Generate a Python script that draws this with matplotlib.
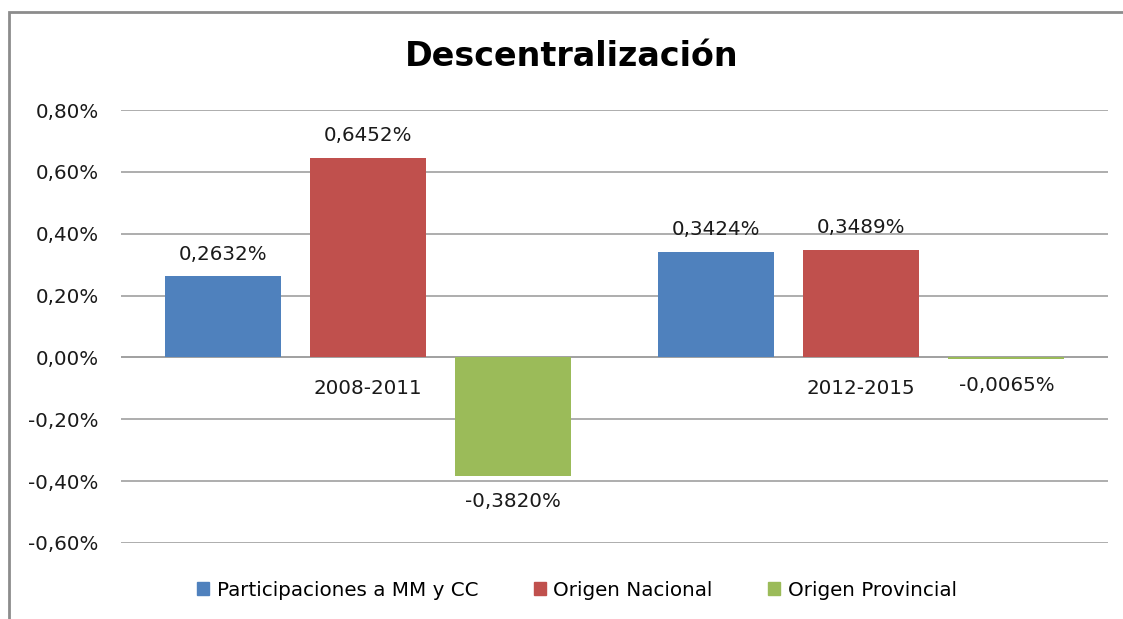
import matplotlib
matplotlib.use('Agg')
import matplotlib.pyplot as plt
from matplotlib.patches import Rectangle, Patch
import numpy as np

plt.rcParams['font.family'] = ['DejaVu Sans']

# Data
periods = ['2008-2011', '2012-2015']
series_names = ['Participaciones a MM y CC', 'Origen Nacional', 'Origen Provincial']
participaciones = [0.2632, 0.3424]
origen_nacional = [0.6452, 0.3489]
origen_provincial = [-0.3820, -0.0065]
yticks = [-0.6, -0.4, -0.2, 0.0, 0.2, 0.4, 0.6, 0.8]

colors = ['#4F81BD', '#C0504D', '#9BBB59']
FS = 14.3

fig = plt.figure(figsize=(11.23, 6.19), dpi=100)
W, H = 1123, 619
ax = fig.add_axes([121 / W, 1 - 543 / H, (1108 - 121) / W, (543 - 110) / H])

x = np.arange(len(periods))
width = 0.235
step = 0.294
all_series = [participaciones, origen_nacional, origen_provincial]
for i, (vals, name, col) in enumerate(zip(all_series, series_names, colors)):
    pos = x + (i - 1) * step
    ax.bar(pos, vals, width=width, color=col, label=name, zorder=3)
    for px, v in zip(pos, vals):
        txt = f'{v:.4f}%'.replace('.', ',')
        off = 22 if v >= 0 else -26
        ax.annotate(txt, (px, v), xytext=(0, off), textcoords='offset pixels',
                    ha='center', va='center', fontsize=FS, color='#1a1a1a')

# category labels sit just under the zero line
for xi, p in zip(x, periods):
    ax.annotate(p, (xi, 0), xytext=(0, -31), textcoords='offset pixels',
                ha='center', va='center', fontsize=FS, color='#1a1a1a')

ax.set_xlim(-0.5, 1.5)
ax.set_ylim(-0.6, 0.8)
ax.set_yticks(yticks)
ax.set_yticklabels([f'{t:.2f}%'.replace('.', ',') for t in yticks], fontsize=FS, color='#1a1a1a')
ax.tick_params(axis='y', length=0, pad=16)
ax.set_xticks([])
ax.grid(axis='y', color='#a0a0a0', linewidth=1.2, zorder=0)
ax.axhline(0, color='#a0a0a0', linewidth=1.2, zorder=2)
for s in ax.spines.values():
    s.set_visible(False)

fig.text(572 / W, 1 - 57 / H, 'Descentralización', ha='center', va='center',
         fontsize=24, fontweight='bold', color='black')

handles = [Patch(color=c) for c in colors]
fig.legend(handles, series_names, loc='center', bbox_to_anchor=(577 / W, 1 - 590 / H),
           ncol=3, frameon=False, fontsize=FS, handlelength=0.6, handleheight=0.6,
           handletextpad=0.4, columnspacing=2.8)

# chart border (cropped at right and bottom)
fig.add_artist(Rectangle((9 / W, -0.1), 1.2, 1 - 12 / H + 0.1, transform=fig.transFigure,
                         fill=False, edgecolor='#8c8c8c', linewidth=2))

fig.savefig('out.png', dpi=100)
